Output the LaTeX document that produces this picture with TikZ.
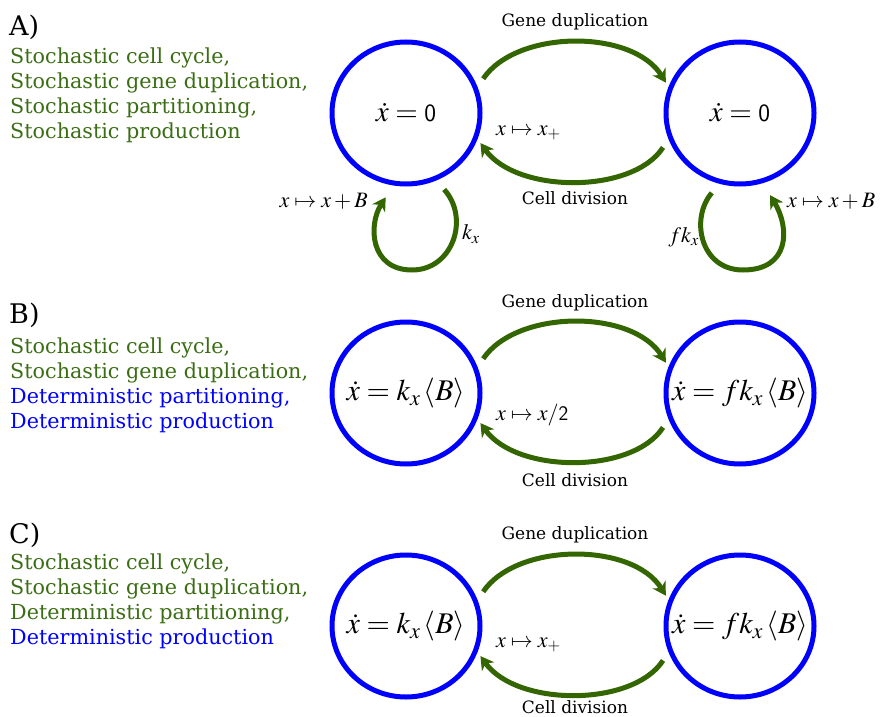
\documentclass[tikz,border=0pt]{standalone}
\usepackage{mathptmx}
\usepackage{fontspec}
\setmainfont{DejaVu Serif}
\usetikzlibrary{arrows.meta,shapes.geometric}
\definecolor{blue}{RGB}{0,0,255}
\definecolor{green}{RGB}{59,110,20}
\definecolor{arrowgreen}{RGB}{51,102,0}

\tikzset{
  cellstate/.style={draw=blue, line width=5pt, ellipse, minimum width=148pt, minimum height=142pt, inner sep=0pt},
  flow/.style={draw=arrowgreen, line width=5pt, -{Stealth[length=13pt,width=15pt,inset=4pt]}, shorten <=10pt, shorten >=5pt},
  selfloop/.style={flow, shorten <=12pt, shorten >=14pt},
  eqn/.style={font=\fontsize{29}{33}\selectfont},
  bigeqn/.style={font=\fontsize{30}{34}\selectfont},
  maplbl/.style={font=\fontsize{22}{26}\selectfont, inner sep=0pt},
  eventlbl/.style={font=\fontsize{17}{20}\selectfont, inner sep=0pt},
  title/.style={font=\fontsize{27}{30}\selectfont, inner sep=0pt, anchor=base west},
  caselist/.style={font=\fontsize{20.7}{25}\selectfont, inner sep=0pt, anchor=north west, align=left},
}

\begin{document}
\begin{tikzpicture}[x=1pt,y=1pt,yscale=-1,xscale=1]
\useasboundingbox (0,0) rectangle (881,717);

%% Panel A
\node (titleA) [title] at (9,36) {A)};
\node (listA) [caselist, text=green] at (10,48) {Stochastic cell cycle,\\Stochastic gene duplication,\\Stochastic partitioning,\\Stochastic production};

\node (aL) [cellstate, label={[eqn]center:$\dot{x}=\mathsf{0}$}] at (406,113) {};
\node (aR) [cellstate, label={[eqn]center:$\dot{x}=\mathsf{0}$}] at (740,113) {};

\draw[flow] (aL.20) .. controls (517,29) and (633,29) .. (aR.160);
\draw[flow] (aR.200) .. controls (633,194) and (517,194) .. (aL.-20);
% self loops (production bursts)
\draw[selfloop] (aL.-66) .. controls (470,218) and (453,270) .. (412,270) .. controls (370,270) and (368,225) .. (aL.-100);
\draw[selfloop] (aR.-106) .. controls (690,218) and (700,270) .. (743,270) .. controls (790,270) and (790,228) .. (aR.-72);

\node (dupA) [eventlbl] at (575,22) {Gene duplication};
\node (divA) [eventlbl] at (575,198) {Cell division};
\node (mapA) [maplbl, anchor=west] at (496,133) {$x\mapsto x_{+}$};
\node (birthAL) [maplbl, anchor=east] at (368,201) {$x\mapsto x+B$};
\node (rateAL) [maplbl, anchor=west] at (462,234) {$k_x$};
\node (rateAR) [maplbl, anchor=east] at (699,237) {$fk_x$};
\node (birthAR) [maplbl, anchor=west] at (787,201) {$x\mapsto x+B$};

%% Panel B
\node (titleB) [title] at (9,323) {B)};
\node (listB) [caselist] at (10,338) {\textcolor{green}{Stochastic cell cycle,}\\\textcolor{green}{Stochastic gene duplication,}\\\textcolor{blue}{Deterministic partitioning,}\\\textcolor{blue}{Deterministic production}};

\node (bL) [cellstate, label={[bigeqn]center:$\dot{x}=k_x\left\langle B\right\rangle$}] at (406,393) {};
\node (bR) [cellstate, label={[bigeqn]center:$\dot{x}=fk_x\left\langle B\right\rangle$}] at (740,393) {};

\draw[flow] (bL.20) .. controls (517,309) and (633,309) .. (bR.160);
\draw[flow] (bR.200) .. controls (633,474) and (517,474) .. (bL.-20);

\node (dupB) [eventlbl] at (575,303) {Gene duplication};
\node (divB) [eventlbl] at (575,480) {Cell division};
\node (mapB) [maplbl, anchor=west] at (496,415) {$x\mapsto x/\mathsf{2}$};

%% Panel C
\node (titleC) [title] at (9,543) {C)};
\node (listC) [caselist] at (10,554) {\textcolor{green}{Stochastic cell cycle,}\\\textcolor{green}{Stochastic gene duplication,}\\\textcolor{green}{Deterministic partitioning,}\\\textcolor{blue}{Deterministic production}};

\node (cL) [cellstate, label={[bigeqn]center:$\dot{x}=k_x\left\langle B\right\rangle$}] at (406,626) {};
\node (cR) [cellstate, label={[bigeqn]center:$\dot{x}=fk_x\left\langle B\right\rangle$}] at (740,626) {};

\draw[flow] (cL.20) .. controls (517,542) and (633,542) .. (cR.160);
\draw[flow] (cR.200) .. controls (633,707) and (517,707) .. (cL.-20);

\node (dupC) [eventlbl] at (575,535) {Gene duplication};
\node (divC) [eventlbl] at (575,707) {Cell division};
\node (mapC) [maplbl, anchor=west] at (496,645) {$x\mapsto x_{+}$};

\end{tikzpicture}
\end{document}
